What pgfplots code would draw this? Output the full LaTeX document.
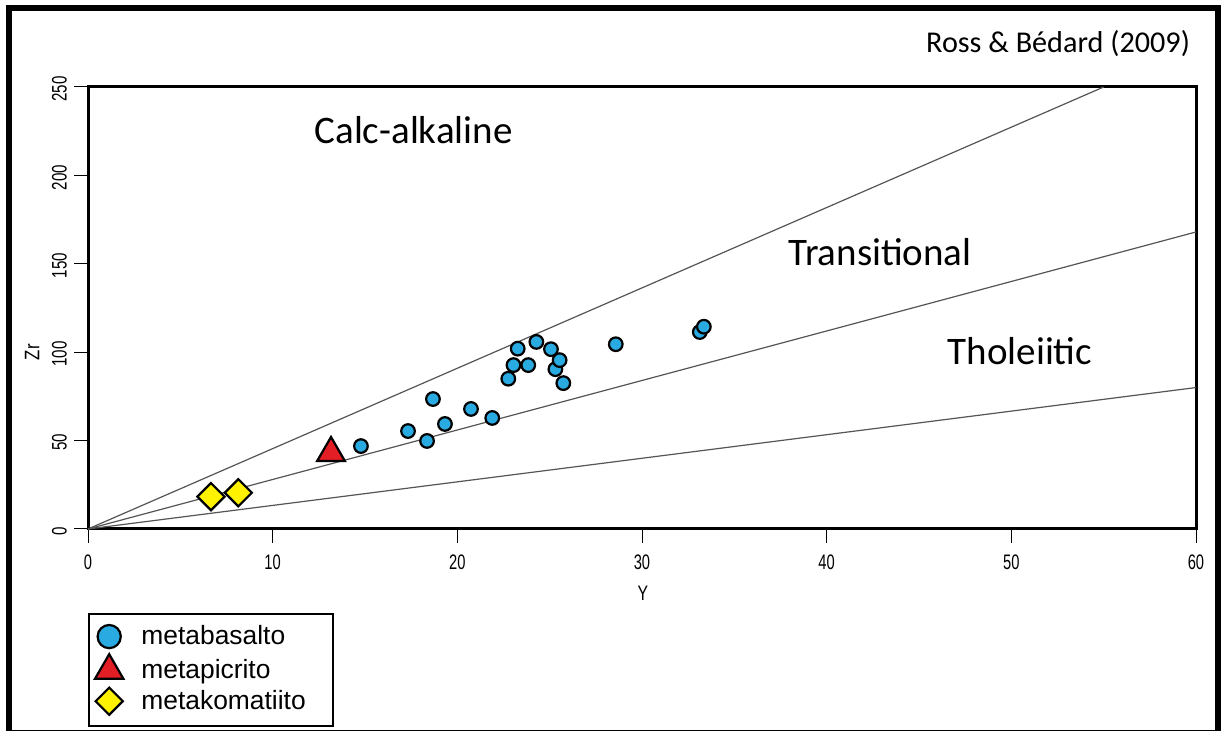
\documentclass[border=0pt]{standalone}
\usepackage{fontspec}
\setmainfont{Liberation Sans}
\newfontfamily\calibri{Carlito}
\usepackage{pgfplots}
\pgfplotsset{compat=1.18}
\definecolor{cblue}{HTML}{29ABE2}
\definecolor{cred}{HTML}{E31E24}
\definecolor{cyellow}{HTML}{FFF200}
\definecolor{lgray}{HTML}{555555}
\newcommand{\tfont}{\fontsize{10.5pt}{12pt}\selectfont}
\begin{document}
\begin{tikzpicture}
\useasboundingbox (0pt,0pt) rectangle (613.5pt,365.5pt);
\fill[white] (0pt,0pt) rectangle (613.5pt,365.5pt);
\draw[line width=3pt] (4.25pt,-1pt) rectangle (609pt,361.5pt);
\node[anchor=base east, font=\calibri\fontsize{15.1pt}{18pt}\selectfont] at (598.5pt,339pt) {Ross \& Bédard (2009)};
\begin{axis}[
  at={(44pt,101pt)}, anchor=origin,
  scale only axis, width=554pt, height=221pt,
  xmin=0, xmax=60, ymin=0, ymax=250,
  xtick={0,10,...,60}, ytick={0,50,...,250},
  xtick pos=bottom, ytick pos=left,
  tick align=outside, major tick length=7pt,
  tick style={black, line width=0.5pt},
  axis line style={line width=1.5pt},
  /pgf/number format/assume math mode=true,
  ticklabel style={font=\tfont},
  xticklabel={\scalebox{0.7}[1]{\pgfmathprintnumber{\tick}}},
  yticklabel={\scalebox{0.72}[1]{\pgfmathprintnumber{\tick}}},
  xticklabel style={yshift=-2.5pt},
  yticklabel style={rotate=90, anchor=south, xshift=-1pt},
  xlabel={\scalebox{0.75}[1]{Y}}, ylabel={\scalebox{0.8}[1]{Zr}},
  label style={font=\tfont},
  xlabel style={at={(axis description cs:0.5009,-0.145)}, anchor=center},
  ylabel style={at={(axis description cs:-0.0505,0.40)}, anchor=center},
  legend style={at={(axis description cs:0,-0.19)}, anchor=north west,
    draw=black, line width=1pt, inner xsep=3pt, inner ysep=5.5pt,
    row sep=3pt, column sep=9pt,
    font=\fontsize{13.2pt}{15pt}\selectfont,
    nodes={inner sep=0pt, anchor=west}},
  legend cell align=left,
  legend image code/.code={\draw[#1] plot coordinates {(6.5pt,0pt)};},
  clip=false,
]
\addplot[lgray, line width=0.6pt, forget plot] coordinates {(0,0) (55,250)};
\addplot[lgray, line width=0.6pt, forget plot] coordinates {(0,0) (60,168)};
\addplot[lgray, line width=0.6pt, forget plot] coordinates {(0,0) (60,80)};
\addplot[only marks, mark=*, mark size=3.4pt,
  mark options={fill=cblue, draw=black, line width=1.1pt},
  legend image post style={mark size=5.8pt}] coordinates {
(14.78,46.9) (17.33,55.4) (18.36,49.8) (18.68,73.5) (19.33,59.4)
(20.74,67.9) (21.89,62.8) (22.76,85.0) (23.04,92.7) (23.27,102.0)
(23.84,92.7) (24.28,105.8) (25.07,101.7) (25.31,90.4) (25.54,95.5)
(25.74,82.5) (28.58,104.5) (33.13,111.4) (33.35,114.4)};
\addlegendentry{\makebox[93pt][l]{metabasalto}}
\addplot[only marks, mark=triangle*, mark size=8pt,
  mark options={fill=cred, draw=black, line width=1.1pt},
  legend image post style={mark size=8.2pt}] coordinates {(13.16,43.0)};
\addlegendentry{\makebox[93pt][l]{metapicrito}}
\addplot[only marks, mark=square*, mark size=4.8pt,
  mark options={fill=cyellow, draw=black, line width=1.1pt, rotate=45},
  legend image post style={mark size=4.8pt}] coordinates {(6.66,18.3) (8.14,20.5)};
\addlegendentry{\makebox[93pt][l]{metakomatiito}}
\node[anchor=base, font=\calibri\fontsize{19.5pt}{22pt}\selectfont] at (axis cs:17.63,218.3) {Calc-alkaline};
\node[anchor=base, font=\calibri\fontsize{19.5pt}{22pt}\selectfont] at (axis cs:42.89,148.9) {Transitional};
\node[anchor=base, font=\calibri\fontsize{19.5pt}{22pt}\selectfont] at (axis cs:50.47,92.8) {Tholeiitic};
\end{axis}
\end{tikzpicture}
\end{document}
